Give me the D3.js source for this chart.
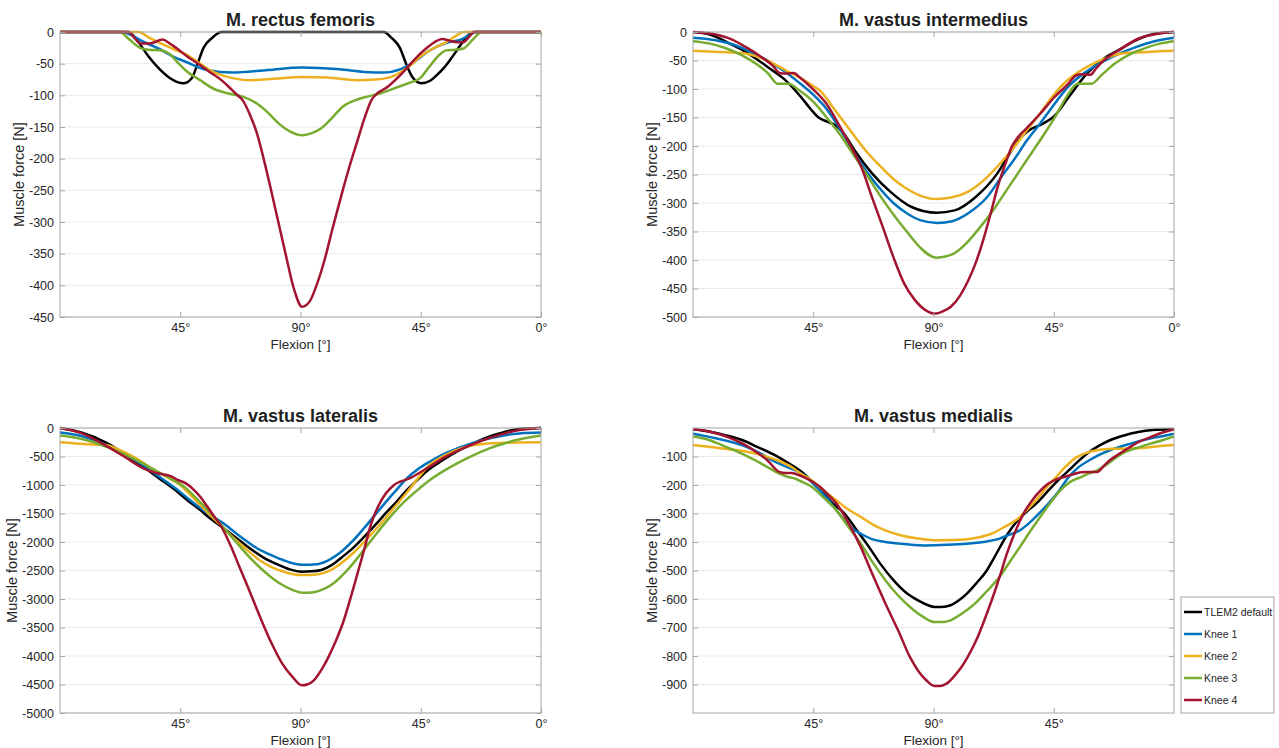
<!DOCTYPE html>
<html>
<head>
<meta charset="utf-8">
<script src="https://cdn.jsdelivr.net/npm/d3@7"></script>
<style>
  body { margin: 0; background: #fff; }
  text { font-family: "Liberation Sans", Arial, Helvetica, sans-serif; }
</style>
</head>
<body>
<svg id="chart" width="1279" height="748"></svg>
<script>
// ---- data ---------------------------------------------------------------
var seriesNames = ["TLEM2 default", "Knee 1", "Knee 2", "Knee 3", "Knee 4"];
var seriesColors = ["#000000", "#0072BD", "#EDB120", "#77AC30", "#A2142F"];

var muscleTitles = ["M. rectus femoris", "M. vastus intermedius", "M. vastus lateralis", "M. vastus medialis"];

// flexion cycle runs 0..180 (0° -> 90° -> 0°)
var flexionTicks = [45, 90, 135, 180];
var flexionTicksMedialis = [45, 90, 135];
var flexionTickLabels = ["45°", "90°", "45°", "0°"];

var rfForceTicks = [0, -50, -100, -150, -200, -250, -300, -350, -400, -450];
var viForceTicks = [0, -50, -100, -150, -200, -250, -300, -350, -400, -450, -500];
var vlForceTicks = [0, -500, -1000, -1500, -2000, -2500, -3000, -3500, -4000, -4500, -5000];
var vmForceTicks = [-100, -200, -300, -400, -500, -600, -700, -800, -900];

var rfDomain = [-450, 0], viDomain = [-500, 0], vlDomain = [-5000, 0], vmDomain = [-1000, 0];

// M. rectus femoris
var rfTlem2 = [[0,0],[25.5,0],[29.2,-15],[33,-38],[36.2,-54],[41.2,-73],[46.2,-81],[49.3,-73],[51.5,-50],[53.7,-25],[57,-9],[60.4,0],[121.2,0],[124,-9],[127.2,-25],[129.5,-50],[132,-72],[135.2,-81],[138.5,-77],[141,-68],[144,-55],[146,-44],[149,-26],[151.2,-13],[154.5,0],[180,0]];
var rfKnee1 = [[0,0],[23,0],[31,-15],[37.7,-28],[42,-38],[47,-47],[55,-60],[64.4,-64],[77.8,-60],[90.6,-56],[104.6,-59],[114,-63],[121.2,-64],[127.2,-59],[132.6,-47],[138,-30],[144.7,-17],[150,-12],[156,0],[180,0]];
var rfKnee2 = [[0,0],[29.6,0],[33,-8],[37.7,-18],[43,-28],[47,-35],[52.4,-50],[56,-60],[60.4,-68],[66,-74],[71,-76],[80,-74],[90.6,-71],[100,-72],[111,-76],[118,-75],[124.5,-70],[128,-62],[131.3,-52],[134.5,-40],[138,-30],[144.7,-16],[151.3,0],[180,0]];
var rfKnee3 = [[0,0],[22.3,0],[26,-12],[29.9,-25],[33,-28],[37.4,-29],[41.2,-35],[44,-48],[47.4,-62],[52.4,-76],[57.7,-90],[63,-97],[68.4,-102],[73.7,-113],[78,-128],[82,-145],[86,-157],[90.6,-163],[94,-160],[97.8,-152],[101.5,-137],[105.8,-118],[111,-107],[115,-102],[119,-98],[127,-86],[131,-80],[135,-72],[138,-56],[142,-36],[144.5,-29],[148,-28],[151,-26],[154,-14],[158,0],[180,0]];
var rfKnee4 = [[0,0],[25.7,0],[28,-10],[30,-18],[33.7,-18],[38.4,-12],[41,-18],[44.4,-28],[48,-40],[52.4,-52],[56,-63],[60.4,-76],[64,-90],[66.5,-100],[68.4,-108],[71,-130],[73.7,-160],[76.5,-205],[79,-250],[84.4,-350],[87.5,-405],[90.6,-434],[93.5,-425],[96,-400],[99,-360],[102,-310],[105.8,-250],[108.5,-210],[111,-176],[113.8,-138],[116.5,-108],[119,-96],[121.8,-89],[128.5,-63],[133,-42],[137.9,-23],[141,-14],[143,-11],[146,-14],[148.6,-16],[151,-16],[153,-8],[155,0],[180,0]];

// M. vastus intermedius
var viTlem2 = [[0,0],[6,-4],[13.6,-20],[19,-33],[24.3,-49],[29,-65],[33.7,-81],[40.4,-114],[44,-135],[47,-150],[50,-157],[53.4,-164],[57,-182],[60.4,-207],[67,-248],[73.8,-280],[81.8,-307],[91.2,-317],[97.9,-313],[105.9,-289],[113.9,-248],[119.3,-207],[122.5,-186],[125.9,-172],[131.3,-160],[135.3,-147],[140.6,-114],[147.4,-73],[154,-46],[160,-30],[164.7,-17],[172.8,-3],[180,0]];
var viKnee1 = [[0,-10],[8,-14],[15,-22],[20.3,-32],[27,-48],[33.7,-67],[40,-90],[45,-110],[50,-135],[55,-170],[60,-210],[65,-245],[70,-275],[75,-300],[80,-318],[85,-330],[91.5,-335],[97,-332],[103,-318],[110,-290],[116,-250],[120,-225],[125,-190],[130,-160],[135,-128],[140.6,-95],[147,-70],[155,-48],[160,-37],[166,-26],[172,-17],[180,-10]];
var viKnee2 = [[0,-33],[10,-35],[18,-37],[25,-45],[30,-55],[35,-68],[40,-80],[45,-95],[48,-105],[52,-130],[56,-155],[60,-180],[65,-210],[70,-235],[75,-258],[80,-275],[85,-287],[91,-293],[97,-290],[103,-280],[110,-255],[116,-225],[120,-203],[125,-172],[130,-142],[135,-110],[140,-85],[145,-68],[150,-55],[155,-45],[160,-38],[170,-35],[180,-33]];
var viKnee3 = [[0,-16],[6,-20],[12,-28],[18,-40],[24,-57],[28,-72],[31.7,-91],[35.7,-91],[40,-103],[45,-122],[50,-150],[55,-180],[60,-215],[65,-250],[70,-287],[75,-320],[80,-350],[85,-378],[91,-396],[97,-390],[102,-372],[107,-345],[112,-315],[117,-280],[122,-245],[127,-210],[132,-175],[136,-145],[140,-112],[144,-91],[149,-91],[153,-75],[158,-55],[164,-38],[170,-27],[175,-20],[180,-16]];
var viKnee4 = [[0,0],[8,-4],[14,-12],[20,-27],[25,-42],[30,-60],[32.4,-72],[35,-73],[37.7,-72],[40,-80],[44.4,-98],[49.8,-125],[55,-166],[59,-200],[63,-237],[67,-290],[71,-342],[75,-395],[79,-441],[83,-470],[87,-488],[90.5,-494],[93.5,-490],[96.5,-482],[100,-462],[103,-436],[105.8,-405],[108.6,-365],[111.3,-320],[114,-272],[117,-230],[119.3,-201],[121.5,-185],[124.6,-170],[130,-143],[135.3,-114],[140.6,-90],[143,-77],[145,-74],[148.7,-75],[151,-63],[154,-49],[160,-30],[167,-11],[174,-3],[180,0]];

// M. vastus lateralis
var vlTlem2 = [[0,0],[8,-80],[17.6,-264],[25,-480],[31,-674],[37,-880],[43,-1085],[48,-1280],[52.4,-1436],[56,-1580],[60.4,-1729],[66,-1930],[71,-2110],[76,-2270],[81.8,-2403],[86,-2480],[90.5,-2520],[94,-2515],[97.8,-2490],[101.5,-2410],[105.8,-2257],[110,-2090],[113.9,-1905],[118,-1700],[121.9,-1495],[126,-1290],[129.9,-1085],[134,-900],[137.9,-733],[143,-570],[148.6,-410],[154,-290],[159.3,-176],[165,-90],[170,-29],[175,-8],[180,0]];
var vlKnee1 = [[0,-80],[8,-140],[17,-290],[25,-470],[31,-650],[37,-850],[43,-1050],[48,-1240],[53,-1420],[58,-1580],[62,-1700],[65.8,-1846],[70,-1990],[73.7,-2110],[78,-2210],[81.8,-2286],[86,-2360],[91,-2400],[96,-2390],[100,-2330],[105.8,-2150],[110,-1960],[113.9,-1750],[118,-1520],[121.9,-1300],[126,-1080],[129.9,-880],[134,-720],[138,-600],[143,-470],[148.6,-360],[154,-270],[160,-190],[166,-130],[172,-95],[180,-80]];
var vlKnee2 = [[0,-250],[6,-270],[12,-290],[17,-300],[22,-380],[28,-520],[34,-700],[40,-860],[45,-1000],[50,-1230],[55,-1470],[60,-1700],[65,-1930],[70,-2140],[75,-2330],[80,-2460],[85,-2540],[90,-2580],[95,-2575],[100,-2520],[105,-2380],[110,-2180],[115,-1940],[120,-1680],[125,-1400],[130,-1120],[134,-880],[138,-660],[144,-480],[150,-360],[155,-300],[160,-270],[166,-260],[172,-255],[180,-250]];
var vlKnee3 = [[0,-130],[6,-170],[12,-240],[18,-340],[24,-460],[30,-600],[36,-750],[42,-900],[47,-1050],[52,-1280],[57,-1530],[62,-1790],[67,-2060],[72,-2320],[77,-2540],[82,-2720],[87,-2840],[91,-2890],[95,-2880],[99,-2820],[103,-2700],[107,-2520],[111,-2300],[115,-2060],[119,-1820],[123,-1590],[127,-1380],[131,-1200],[134.5,-1060],[137.9,-930],[143,-770],[148.6,-620],[155,-470],[160,-370],[165,-290],[170,-220],[175,-170],[180,-130]];
var vlKnee4 = [[0,0],[8,-90],[17.6,-322],[24,-500],[31,-703],[36,-790],[41.7,-850],[44,-910],[47,-967],[50,-1080],[52.4,-1202],[55,-1370],[57.7,-1553],[60.4,-1729],[64,-2080],[67,-2420],[71,-2870],[75,-3330],[79,-3760],[83,-4120],[87,-4367],[90.5,-4514],[92.5,-4500],[95,-4426],[98,-4230],[100.5,-4015],[103,-3760],[105.8,-3430],[108.5,-3020],[111,-2609],[113.8,-2140],[116.5,-1671],[119,-1380],[121.9,-1150],[125,-1000],[131,-880],[137.9,-690],[144,-510],[151,-352],[158,-220],[164.7,-117],[172,-35],[180,0]];

// M. vastus medialis
var vmTlem2 = [[0,-4],[6,-12],[12,-25],[18.6,-43],[24,-66],[30.8,-96],[36,-125],[41.5,-160],[45,-193],[49,-230],[52,-262],[56.7,-300],[61,-355],[65.9,-418],[70,-475],[75,-534],[80,-580],[84.2,-605],[88,-622],[90.3,-628],[93,-628],[96.4,-622],[99,-608],[102.5,-581],[106,-545],[110,-499],[113,-450],[117.8,-371],[121,-330],[125.4,-289],[129,-260],[133,-219],[137,-180],[140.6,-149],[144,-118],[148.3,-84],[152,-62],[156,-43],[161,-27],[166.6,-14],[172,-7],[180,-4]];
var vmKnee1 = [[0,-20],[8,-35],[18.6,-61],[25,-88],[30.8,-119],[36,-140],[41.5,-165],[45,-195],[50,-245],[56.7,-324],[60,-355],[62.8,-371],[67,-390],[72,-400],[80,-408],[87.3,-412],[95,-410],[102.5,-406],[110,-398],[114.7,-388],[118,-376],[122.3,-359],[126.9,-324],[130,-295],[133,-265],[137,-220],[140.6,-172],[144,-140],[148.3,-113],[152,-94],[156,-78],[163,-57],[171,-37],[176,-28],[180,-20]];
var vmKnee2 = [[0,-60],[5,-65],[11,-72],[18,-80],[26,-96],[32,-115],[36.9,-137],[40,-158],[44.5,-184],[49,-220],[53.7,-254],[58,-285],[62.8,-312],[67,-337],[72,-359],[78,-377],[84.2,-388],[90.3,-394],[96,-393],[102.5,-390],[107,-383],[111.7,-371],[116,-350],[120.8,-324],[124.5,-292],[128.3,-254],[132,-212],[135.9,-172],[139.5,-135],[143.6,-102],[147,-88],[151.2,-78],[157,-73],[163.5,-72],[170,-68],[175,-63],[180,-60]];
var vmKnee3 = [[0,-30],[6,-42],[11,-61],[17,-85],[23.2,-113],[28,-138],[32.3,-160],[35,-170],[38.4,-178],[41,-190],[44.5,-207],[49,-245],[53.7,-289],[58,-345],[62.8,-406],[67,-468],[72,-534],[76.5,-585],[81.2,-628],[86,-662],[90.3,-681],[93.5,-681],[96.4,-675],[100,-655],[105.5,-616],[110,-572],[114.7,-523],[118.5,-470],[122.3,-418],[126,-365],[129.9,-312],[133.7,-263],[137.5,-219],[141,-190],[145.2,-172],[148,-160],[151.3,-149],[156,-120],[160.5,-90],[166,-70],[171.2,-55],[176,-42],[180,-30]];
var vmKnee4 = [[0,-4],[6,-12],[12,-28],[18.6,-55],[23,-80],[27.8,-113],[32.3,-154],[34.5,-158],[36.9,-158],[39,-163],[41.5,-172],[44.5,-187],[47.6,-207],[50.5,-233],[53.7,-265],[58,-330],[62.8,-418],[67,-510],[72,-616],[77,-715],[81.2,-804],[84.5,-855],[87.3,-885],[90.3,-905],[92.5,-905],[94.9,-897],[98,-868],[100,-845],[102.5,-808],[106,-745],[110,-650],[112.5,-585],[114.7,-523],[117.5,-440],[120.8,-359],[124,-295],[126.9,-254],[130,-220],[133,-195],[136,-180],[139,-172],[142,-163],[145.2,-155],[148,-154],[151.3,-154],[154,-130],[156,-113],[160,-88],[163.5,-67],[167,-48],[171.2,-32],[176,-15],[180,-4]];

// ---- layout -------------------------------------------------------------
var panels = [
    { title: muscleTitles[0], box: {left: 60,  right: 541,  top: 32,  bottom: 317}, yDomain: rfDomain, yTicks: rfForceTicks, xTicks: flexionTicks,          series: [rfTlem2, rfKnee1, rfKnee2, rfKnee3, rfKnee4] },
    { title: muscleTitles[1], box: {left: 693, right: 1174, top: 32,  bottom: 317}, yDomain: viDomain, yTicks: viForceTicks, xTicks: flexionTicks,          series: [viTlem2, viKnee1, viKnee2, viKnee3, viKnee4] },
    { title: muscleTitles[2], box: {left: 60,  right: 541,  top: 428, bottom: 713}, yDomain: vlDomain, yTicks: vlForceTicks, xTicks: flexionTicks,          series: [vlTlem2, vlKnee1, vlKnee2, vlKnee3, vlKnee4] },
    { title: muscleTitles[3], box: {left: 693, right: 1174, top: 428, bottom: 713}, yDomain: vmDomain, yTicks: vmForceTicks, xTicks: flexionTicksMedialis,  series: [vmTlem2, vmKnee1, vmKnee2, vmKnee3, vmKnee4] }
];

var svg = d3.select("#chart");
var axisColor = "#a6a6a6", labelColor = "#262626";

function drawPanel(p, idx){
    var b = p.box;
    var x = d3.scaleLinear().domain([0, 180]).range([b.left, b.right]);
    var y = d3.scaleLinear().domain(p.yDomain).range([b.bottom, b.top]);
    var g = svg.append("g").attr("class", "panel-" + idx);

    // horizontal grid
    g.selectAll(".grid")
        .data(p.yTicks)
        .enter()
        .append("line")
        .attr("x1", b.left).attr("x2", b.right)
        .attr("y1", function(d){ return y(d); })
        .attr("y2", function(d){ return y(d); })
        .attr("stroke", "#ebebeb")
        .attr("stroke-width", 1);

    // curves
    g.append("clipPath").attr("id", "clip" + idx)
        .append("rect")
        .attr("x", b.left).attr("y", b.top - 2)
        .attr("width", b.right - b.left).attr("height", b.bottom - b.top + 4);

    var line = d3.line()
        .x(function(d){ return x(d[0]); })
        .y(function(d){ return y(d[1]); })
        .curve(d3.curveMonotoneX);

    g.append("g").attr("clip-path", "url(#clip" + idx + ")")
        .selectAll("path")
        .data(p.series)
        .enter()
        .append("path")
        .attr("d", line)
        .attr("fill", "none")
        .attr("stroke", function(d, i){ return seriesColors[i]; })
        .attr("stroke-width", 2.5)
        .attr("stroke-linejoin", "round");

    // axes (ticks pointing inward, MATLAB style)
    var xAxis = d3.axisBottom(x).tickValues(p.xTicks)
        .tickFormat(function(d){ return flexionTickLabels[flexionTicks.indexOf(d)]; })
        .tickSize(-5).tickPadding(6);
    var yAxis = d3.axisLeft(y).tickValues(p.yTicks)
        .tickFormat(function(d){ return String(d); })
        .tickSize(-5).tickPadding(6);

    var gx = g.append("g").attr("transform", "translate(0," + b.bottom + ")").call(xAxis);
    var gy = g.append("g").attr("transform", "translate(" + b.left + ",0)").call(yAxis);
    g.append("g").attr("transform", "translate(0," + b.top + ")")
        .call(d3.axisTop(x).tickValues(p.xTicks).tickSize(-5).tickFormat(""));
    g.append("g").attr("transform", "translate(" + b.right + ",0)")
        .call(d3.axisRight(y).tickValues(p.yTicks).tickSize(-5).tickFormat(""));

    g.selectAll(".domain").remove();
    g.selectAll(".tick line").attr("stroke", axisColor);
    [gx, gy].forEach(function(a){
        a.selectAll("text")
            .attr("fill", labelColor)
            .style("font-size", "12.5px")
            .style("font-family", "'Liberation Sans', Arial, sans-serif");
    });

    // box
    g.append("rect")
        .attr("x", b.left).attr("y", b.top)
        .attr("width", b.right - b.left).attr("height", b.bottom - b.top)
        .attr("fill", "none").attr("stroke", axisColor).attr("stroke-width", 1);

    // title and labels
    g.append("text")
        .attr("x", (b.left + b.right) / 2).attr("y", b.top - 6)
        .attr("text-anchor", "middle")
        .style("font-size", "18px").style("font-weight", "bold")
        .attr("fill", "#1f1f1f")
        .text(p.title);

    g.append("text")
        .attr("x", (b.left + b.right) / 2).attr("y", b.bottom + 32)
        .attr("text-anchor", "middle")
        .style("font-size", "13.5px")
        .attr("fill", labelColor)
        .text("Flexion [°]");

    var tickBox = gy.node().getBBox();
    var labelX = b.left + tickBox.x - 5;
    g.append("text")
        .attr("transform", "translate(" + labelX + "," + ((b.top + b.bottom) / 2) + ") rotate(-90)")
        .attr("text-anchor", "middle")
        .style("font-size", "14.5px")
        .attr("fill", labelColor)
        .text("Muscle force [N]");
}

panels.forEach(drawPanel);

// legend
var legend = svg.append("g").attr("class", "legend");
legend.append("rect")
    .attr("x", 1181).attr("y", 597).attr("width", 93).attr("height", 116)
    .attr("fill", "#fff").attr("stroke", axisColor);
var items = legend.selectAll(".item")
    .data(seriesNames)
    .enter()
    .append("g")
    .attr("transform", function(d, i){ return "translate(1184," + (612 + i * 22) + ")"; });
items.append("line")
    .attr("x1", 0).attr("x2", 18)
    .attr("stroke", function(d, i){ return seriesColors[i]; })
    .attr("stroke-width", 2.5);
items.append("text")
    .attr("x", 20).attr("dy", "0.35em")
    .style("font-size", "10.5px")
    .attr("fill", labelColor)
    .text(function(d){ return d; });
</script>
</body>
</html>
